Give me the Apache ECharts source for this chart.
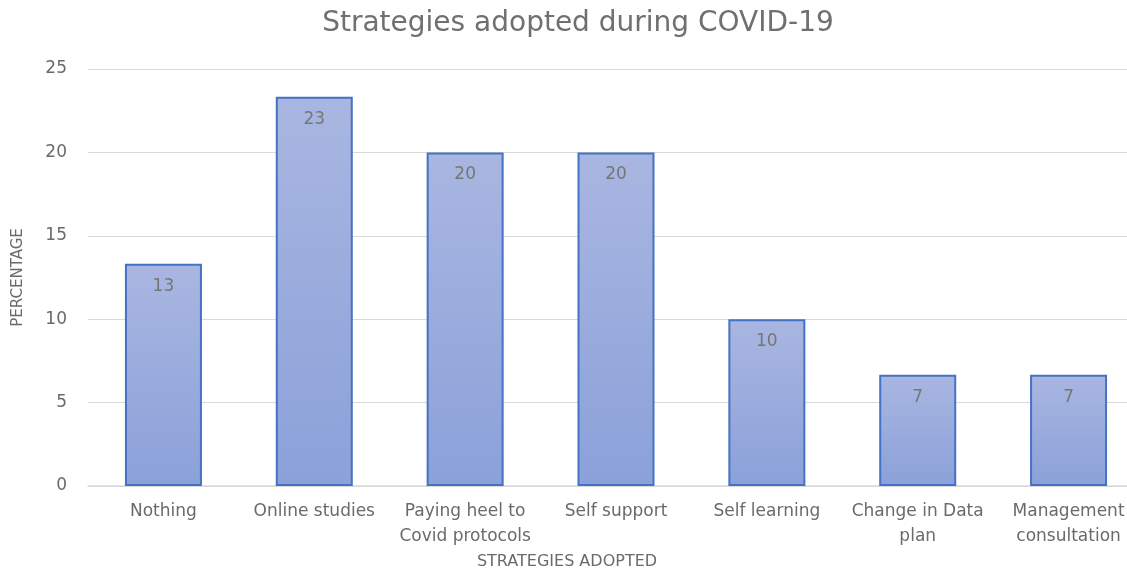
<!DOCTYPE html>
<html>
<head>
<meta charset="utf-8">
<script src="https://cdn.jsdelivr.net/npm/echarts@6/dist/echarts.min.js"></script>
<style>
  html, body { margin: 0; padding: 0; background: #fff; }
  #chart { width: 1127px; height: 569px; }
</style>
</head>
<body>
<div id="chart"></div>
<script>
// 数据
const categories = ['Nothing', 'Online studies', 'Paying heel to\nCovid protocols', 'Self support',
  'Self learning', 'Change in Data\nplan', 'Management\nconsultation'];
const percentages = [13.33, 23.33, 20, 20, 10, 6.67, 6.67];
const yTicks = [0, 5, 10, 15, 20, 25];

const chart = echarts.init(document.getElementById('chart'));
const grey = '#6a6a6a';
const font = '"DejaVu Sans", "Open Sans", sans-serif';

chart.setOption({
  animation: false,
  title: {
    text: 'Strategies adopted during COVID-19',
    left: 573,
    top: 5,
    textAlign: 'center',
    textStyle: { color: '#707070', fontSize: 28, fontWeight: 'normal', fontFamily: font }
  },
  grid: { left: 88, top: 69, width: 1056, height: 417, containLabel: false, outerBoundsMode: 'none' },
  xAxis: {
    type: 'category',
    data: categories,
    name: 'STRATEGIES ADOPTED',
    nameLocation: 'middle',
    nameGap: 68,
    nameTextStyle: { color: grey, fontSize: 16, fontFamily: font, padding: [0, 98, 0, 0] },
    axisTick: { show: false },
    axisLine: { lineStyle: { color: '#d9d9d9', width: 1.5 } },
    axisLabel: { interval: 0, color: grey, fontSize: 17, fontFamily: font, lineHeight: 25, margin: 13 }
  },
  yAxis: {
    type: 'value',
    min: yTicks[0],
    max: yTicks[yTicks.length - 1],
    interval: 5,
    name: 'PERCENTAGE',
    nameLocation: 'middle',
    nameGap: 62,
    nameTextStyle: { color: grey, fontSize: 15, fontFamily: font },
    axisLine: { show: false },
    axisTick: { show: false },
    axisLabel: { color: grey, fontSize: 17, fontFamily: font, margin: 21 },
    splitLine: { lineStyle: { color: '#d9d9d9', width: 1 } }
  },
  series: [{
    type: 'bar',
    data: percentages,
    barWidth: 77,
    itemStyle: {
      borderColor: '#4472c4',
      borderWidth: 2,
      color: new echarts.graphic.LinearGradient(0, 0, 0, 1, [
        { offset: 0, color: '#a9b6e1' },
        { offset: 1, color: '#8ba1d9' }
      ])
    },
    label: {
      show: true,
      position: 'insideTop',
      distance: 14,
      color: '#767676',
      fontSize: 17,
      fontFamily: font,
      formatter: p => Math.round(p.value)
    }
  }]
});
</script>
</body>
</html>
